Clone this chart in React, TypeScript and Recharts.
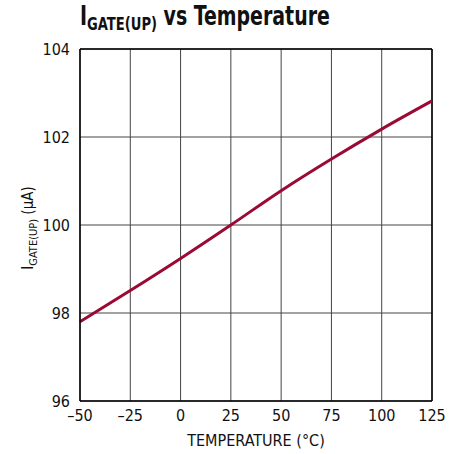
import { LineChart, Line, XAxis, YAxis, CartesianGrid, ReferenceLine, Label } from "recharts";

// I_GATE(UP) in µA at each 25°C gridline
const temperature = [-50, -25, 0, 25, 50, 75, 100, 125];
const igateUp = [97.8, 98.51, 99.24, 100.0, 100.78, 101.5, 102.18, 102.82];

const xTicks = [-50, -25, 0, 25, 50, 75, 100, 125];
const yTicks = [96, 98, 100, 102, 104];

const data = temperature.map((t, i) => ({ t, i: igateUp[i] }));

const FONT = "'Liberation Sans Narrow', 'DejaVu Sans Condensed', Roboto, sans-serif";
const tickStyle = { fontSize: 16, fontFamily: FONT, fill: "#111" };

function YLabel() {
  const cx = 33;
  const cy = 228;
  return (
    <text x={cx} y={cy} transform={`rotate(-90, ${cx}, ${cy})`} textAnchor="middle"
      fontFamily={FONT} fontSize={15} fill="#111">
      I<tspan fontSize={11} dy={4}>GATE(UP)</tspan><tspan dy={-4}> (µA)</tspan>
    </text>
  );
}

export default function App() {
  return (
    <div style={{ position: "absolute", left: 0, top: 0, width: 463, height: 454, background: "#fff" }}>
      <div style={{
        position: "absolute", left: 80, top: 1, fontFamily: FONT, fontWeight: "bold",
        fontSize: 26, color: "#111", whiteSpace: "nowrap",
        transform: "scaleX(0.81)", transformOrigin: "left top",
      }}>
        I<sub style={{ fontSize: 18, verticalAlign: "-5px" }}>GATE(UP)</sub> vs Temperature
      </div>
      <LineChart width={463} height={454} data={data} margin={{ top: 49, right: 31, bottom: 23, left: 0 }}>
        <CartesianGrid stroke="#444" strokeWidth={1} />
        <XAxis dataKey="t" type="number" domain={[-50, 125]} ticks={xTicks} tickLine={false} height={30}
          axisLine={{ stroke: "#000", strokeWidth: 1.5 }} tick={tickStyle} tickMargin={3}
          tickFormatter={(v: number) => (v < 0 ? `–${Math.abs(v)}` : `${v}`)} interval={0}>
          <Label value="TEMPERATURE (°C)" position="bottom" offset={4}
            style={{ fontSize: 16, fontFamily: FONT, fill: "#111" }} />
        </XAxis>
        <YAxis type="number" domain={[96, 104]} ticks={yTicks} width={80} tickLine={false}
          axisLine={{ stroke: "#000", strokeWidth: 1.5 }} tick={tickStyle} tickMargin={4} interval={0}>
          <Label content={<YLabel />} />
        </YAxis>
        <ReferenceLine y={104} stroke="#000" strokeWidth={1.5} />
        <ReferenceLine x={125} stroke="#000" strokeWidth={1.5} />
        <Line dataKey="i" type="monotone" stroke="#9A0A35" strokeWidth={3} dot={false} isAnimationActive={false} />
      </LineChart>
    </div>
  );
}
